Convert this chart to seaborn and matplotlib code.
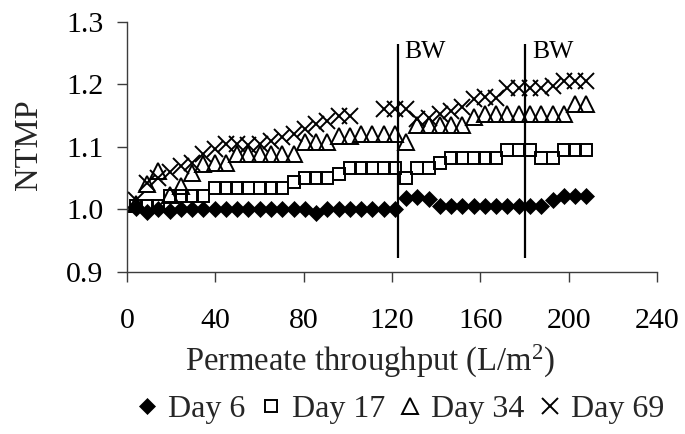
import numpy as np
import pandas as pd
import matplotlib
matplotlib.use("Agg")
import matplotlib.pyplot as plt
import seaborn as sns
from matplotlib.lines import Line2D

# ---------------- data ----------------
throughput = [4.0, 9.1, 14.2, 19.3, 24.4, 29.5, 34.6, 39.7, 44.8, 49.9,
              55.0, 60.1, 65.2, 70.3, 75.4, 80.5, 85.6, 90.7, 95.8, 100.9,
              106.0, 111.1, 116.2, 121.3, 126.4, 131.5, 136.6, 141.7, 146.8, 151.9,
              157.0, 162.1, 167.2, 172.3, 177.4, 182.5, 187.6, 192.7, 197.8, 202.9,
              208.0]

day6 = [1.003, 0.996, 1.0, 0.997, 1.0, 1.0, 1.0, 1.0, 1.0, 1.0,
        1.0, 1.0, 1.0, 1.0, 1.0, 1.0, 0.995, 1.0, 1.0, 1.0,
        1.0, 1.0, 1.0, 1.0, 1.018, 1.02, 1.017, 1.005, 1.005, 1.005,
        1.005, 1.005, 1.005, 1.005, 1.005, 1.005, 1.005, 1.015, 1.022, 1.022,
        1.022]

day17 = [1.005, 1.005, 1.005, 1.021, 1.021, 1.021, 1.021, 1.034, 1.034, 1.034,
         1.034, 1.034, 1.034, 1.034, 1.044, 1.05, 1.05, 1.05, 1.057, 1.066,
         1.066, 1.066, 1.066, 1.066, 1.05, 1.067, 1.067, 1.074, 1.082, 1.082,
         1.082, 1.082, 1.082, 1.095, 1.095, 1.095, 1.082, 1.082, 1.095, 1.095,
         1.095]

day34 = [1.008, 1.04, 1.062, 1.023, 1.038, 1.059, 1.073, 1.075, 1.075, 1.089,
         1.089, 1.089, 1.089, 1.089, 1.089, 1.108, 1.108, 1.108, 1.118, 1.118,
         1.121, 1.121, 1.121, 1.121, 1.108, 1.135, 1.135, 1.135, 1.135, 1.135,
         1.148, 1.153, 1.153, 1.153, 1.153, 1.153, 1.153, 1.153, 1.153, 1.169,
         1.169]

day69 = [1.015, 1.043, 1.05, 1.06, 1.07, 1.075, 1.089, 1.097, 1.105, 1.105,
         1.103, 1.105, 1.11, 1.116, 1.121, 1.129, 1.137, 1.142, 1.15, 1.15,
         np.nan, np.nan, 1.161, 1.161, 1.161, 1.145, 1.147, 1.152, 1.158, 1.164,
         1.177, 1.18, 1.178, 1.194, 1.194, 1.194, 1.194, 1.197, 1.206, 1.206,
         1.206]

series_names = ["Day 6", "Day 17", "Day 34", "Day 69"]
bw_x = [122.5, 180.4]
bw_label = "BW"
x_ticks = [0, 40, 80, 120, 160, 200, 240]
y_ticks = [0.9, 1.0, 1.1, 1.2, 1.3]

# ---------------- style ----------------
sns.set_theme(style="ticks")
plt.rcParams["font.family"] = ["Liberation Serif", "DejaVu Serif"]
plt.rcParams["mathtext.fontset"] = "custom"
plt.rcParams["mathtext.rm"] = "Liberation Serif"
plt.rcParams["mathtext.it"] = "Liberation Serif:italic"
plt.rcParams["mathtext.bf"] = "Liberation Serif:bold"

axis_col = "#3c3c3c"
FS_TICK = 21.5
FS_LABEL = 23.5
FS_LEG = 23

fig = plt.figure(figsize=(6.85, 4.34), dpi=100)
ax = fig.add_axes([0.1854, 0.3733, 0.9591 - 0.1854, 0.9493 - 0.3733])

styles = {
    "Day 6": dict(marker="D", markersize=8.2, markerfacecolor="black",
                  markeredgecolor="black", markeredgewidth=0.5),
    "Day 17": dict(marker="s", markersize=8.8, markerfacecolor="none",
                   markeredgecolor="black", markeredgewidth=1.4),
    "Day 34": dict(marker="^", markersize=11.5, markerfacecolor="none",
                   markeredgecolor="black", markeredgewidth=1.4),
    "Day 69": dict(marker="x", markersize=11.0, markerfacecolor="none",
                   markeredgecolor="black", markeredgewidth=1.4),
}

for name, vals in zip(series_names, [day6, day17, day34, day69]):
    df = pd.DataFrame({"x": throughput, "y": vals}).dropna()
    sns.lineplot(data=df, x="x", y="y", ax=ax, color="black", linestyle="",
                 estimator=None, legend=False, **styles[name])

# backwash lines and labels
ax.vlines(bw_x, 0.923, 1.265, color="black", linewidth=1.6, zorder=1)
for bx in bw_x:
    ax.text(bx + 3.0, 1.252, bw_label, fontsize=18.5, ha="left", va="center",
            color="black")

ax.set_xlim(0, 240)
ax.set_ylim(0.9, 1.3)
ax.set_xticks(x_ticks)
ax.set_yticks(y_ticks)
ax.set_yticklabels([f"{v:.1f}" for v in y_ticks])
ax.set_xticklabels([str(v) for v in x_ticks])

sns.despine(ax=ax)
for sp in ["left", "bottom"]:
    ax.spines[sp].set_color(axis_col)
    ax.spines[sp].set_linewidth(1.0)
ax.tick_params(axis="both", direction="out", length=7, width=1.0,
               color=axis_col, labelsize=FS_TICK, labelcolor="black")
ax.tick_params(axis="x", pad=19)
ax.tick_params(axis="y", pad=10)

ax.set_xlabel("Permeate throughput (L/m$^2$)", fontsize=FS_LABEL)
ax.set_ylabel("NTMP", fontsize=FS_LABEL)
ax.xaxis.set_label_coords(0.458, -0.282)
ax.yaxis.set_label_coords(-0.157, 0.508)

# legend
handles = []
for name in series_names:
    st = dict(styles[name])
    handles.append(Line2D([], [], linestyle="", color="black", **st))
leg = fig.legend(handles, series_names, loc="center", ncol=4,
                 bbox_to_anchor=(0.584, 0.056), frameon=False, fontsize=FS_LEG,
                 handlelength=0.7, handletextpad=0.3, columnspacing=0.45,
                 borderaxespad=0, borderpad=0)

fig.savefig("out.png", dpi=100)
